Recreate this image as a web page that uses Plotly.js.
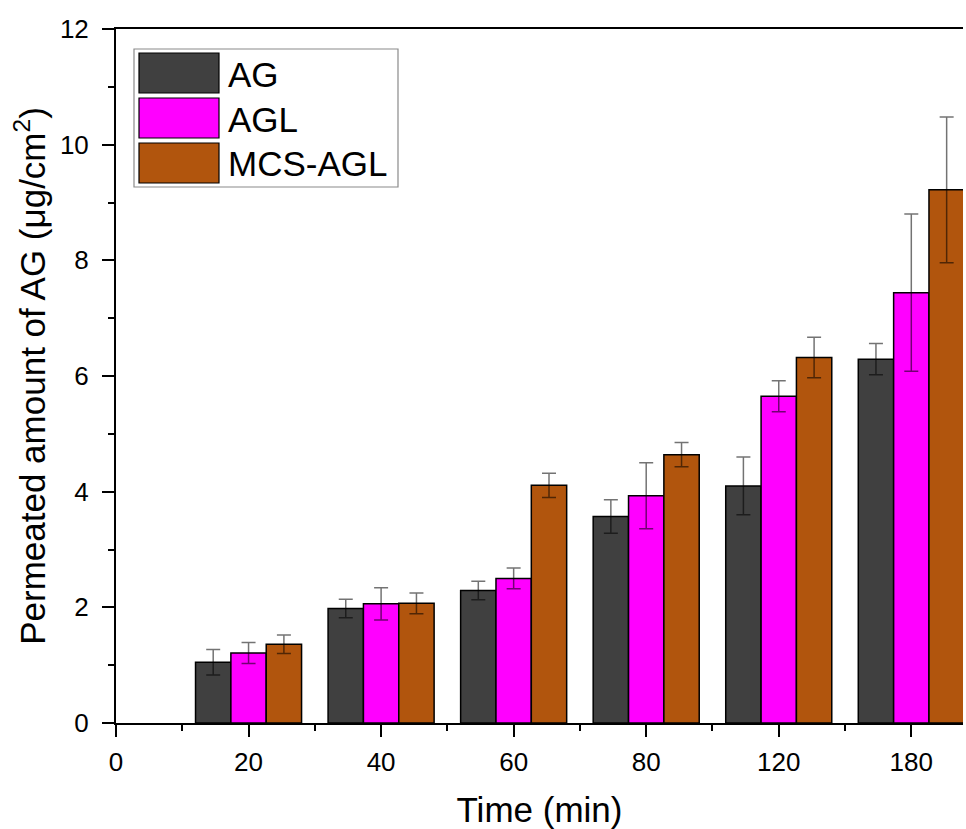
<!DOCTYPE html>
<html>
<head>
<meta charset="utf-8">
<script src="https://cdn.plot.ly/plotly-3.0.1.min.js"></script>
<style>html,body{margin:0;padding:0;background:#fff;}#chart{width:966px;height:829px;}</style>
</head>
<body>
<div id="chart"></div>
<script>
// ---- data ----
const tickLabels = ["0", "20", "40", "60", "80", "120", "180"];
const timePositions = [1, 2, 3, 4, 5, 6];
const seriesNames = ["AG", "AGL", "MCS-AGL"];
const agValues = [1.05, 1.98, 2.29, 3.57, 4.10, 6.29];
const agErrors = [0.22, 0.16, 0.16, 0.29, 0.50, 0.27];
const aglValues = [1.21, 2.06, 2.50, 3.93, 5.65, 7.44];
const aglErrors = [0.18, 0.28, 0.18, 0.57, 0.27, 1.36];
const mcsValues = [1.36, 2.07, 4.11, 4.64, 6.32, 9.22];
const mcsErrors = [0.16, 0.18, 0.21, 0.21, 0.35, 1.26];
const colors = ["#404040", "#ff00ff", "#b1550d"];

const W = 966, H = 829;
const M = {l: 116, r: 3, t: 29, b: 106};
const pw = W - M.l - M.r, ph = H - M.t - M.b;
const px = v => (v - M.l) / pw;
const py = v => (M.t + ph - v) / ph;

const values = [agValues, aglValues, mcsValues];
const errors = [agErrors, aglErrors, mcsErrors];
const traces = seriesNames.map((name, i) => ({
  type: "bar",
  name: name,
  x: timePositions,
  y: values[i],
  marker: {color: colors[i], line: {color: "#000", width: 1.5}},
  error_y: {type: "data", array: errors[i], visible: true, color: "rgba(0,0,0,0.55)", thickness: 1.5, width: 7},
  showlegend: false
}));

const font = "Liberation Sans, Arial, sans-serif";
// custom legend (large swatches like the original)
const shapes = [{type: "rect", xref: "paper", yref: "paper", x0: px(134), x1: px(398), y0: py(49), y1: py(187),
  line: {color: "#8a8a8a", width: 1.2}, fillcolor: "rgba(255,255,255,0)"}];
const annotations = [];
const rowTops = [53, 98, 143];
seriesNames.forEach((n, i) => {
  shapes.push({type: "rect", xref: "paper", yref: "paper", x0: px(139), x1: px(219), y0: py(rowTops[i]), y1: py(rowTops[i] + 40),
    line: {color: "#000", width: 1.2}, fillcolor: colors[i]});
  annotations.push({xref: "paper", yref: "paper", x: px(226), y: py(rowTops[i] + 21), text: n, showarrow: false,
    xanchor: "left", yanchor: "middle", font: {family: font, size: 35, color: "#000"}});
});

const layout = {
  width: W, height: H,
  margin: M,
  paper_bgcolor: "#fff", plot_bgcolor: "#fff",
  font: {family: font, color: "#000"},
  barmode: "group", bargap: 0.2, bargroupgap: 0,
  showlegend: false,
  xaxis: {
    range: [0, (W - M.r - M.l) / 132.55], tickmode: "array", tickvals: [0, 1, 2, 3, 4, 5, 6], ticktext: tickLabels,
    ticks: "outside", ticklen: 12, tickwidth: 2, tickcolor: "#000", ticklabelstandoff: 3,
    showline: true, linecolor: "#000", linewidth: 2, mirror: true, showgrid: false, zeroline: false,
    tickfont: {family: font, size: 26, color: "#000"},
    minor: {tickmode: "array", tickvals: [0.5, 1.5, 2.5, 3.5, 4.5, 5.5], ticks: "outside", ticklen: 6, tickwidth: 2, tickcolor: "#000", showgrid: false},
    title: {text: "Time (min)", font: {family: font, size: 35, color: "#000"}, standoff: 24}
  },
  yaxis: {
    range: [0, 12], tickmode: "linear", tick0: 0, dtick: 2,
    ticks: "outside", ticklen: 12, tickwidth: 2, tickcolor: "#000", ticklabelstandoff: 8,
    showline: true, linecolor: "#000", linewidth: 2, mirror: false, showgrid: false, zeroline: false,
    tickfont: {family: font, size: 26, color: "#000"},
    minor: {tick0: 1, dtick: 2, ticks: "outside", ticklen: 6, tickwidth: 2, tickcolor: "#000", showgrid: false},
    title: {text: "Permeated amount of AG (μg/cm<sup>2</sup>)", font: {family: font, size: 35, color: "#000"}, standoff: 4}
  },
  shapes: shapes,
  annotations: annotations
};

Plotly.newPlot("chart", traces, layout, {displayModeBar: false, staticPlot: true});
</script>
</body>
</html>
